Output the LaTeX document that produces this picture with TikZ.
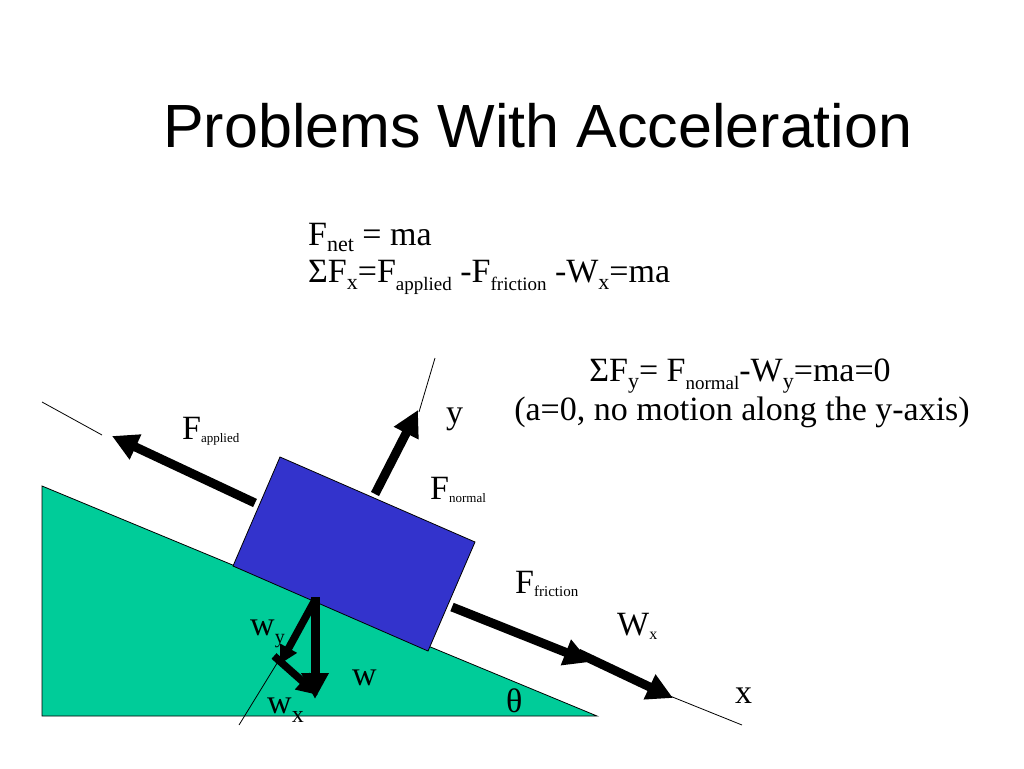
\documentclass[tikz,border=0pt]{standalone}
\usepackage{fontspec}
\setmainfont{Liberation Serif}
\newfontfamily\titlefont{Liberation Sans}
\usetikzlibrary{arrows.meta}
\definecolor{ramp}{RGB}{0,204,153}
\definecolor{block}{RGB}{51,51,204}
\def\fs#1{\fontsize{#1}{#1}\selectfont}
\def\lo#1#2#3{\raisebox{-#2pt}{\fs{#1}#3}}

\begin{document}
\begin{tikzpicture}[x=1pt,y=-1pt,
    force/.style={line width=9pt,-{Triangle[length=26pt,width=26pt]}},
    smallforce/.style={line width=7.5pt,-{Triangle[length=#1,width=#1]}},
    axis/.style={line width=0.8pt},
    txt/.style={inner sep=0,anchor=base west,font=\fs{34}}]
          \fill [white] (0,0) rectangle (1024,768);
          \useasboundingbox (0,0) rectangle (1024,768);
          \node [inner sep=0,anchor=base west,font=\titlefont\fs{61}] (title) at (163,147) {Problems With Acceleration};
          \node [txt] (fnet) at (308,245) {F\lo{22}{6}{net} = ma};
          \node [txt] (sumx) at (308,282) {ΣF\lo{22}{7}{x}=F\lo{19}{8}{applied} -F\lo{19}{8}{friction} -W\lo{22}{7}{x}=ma};
          \node [txt,anchor=base] (sumy) at (740,381) {ΣF\lo{22}{7}{y}= F\lo{19}{8}{normal}-W\lo{22}{7}{y}=ma=0};
          \node [txt,anchor=base] (nomove) at (742,420) {(a=0, no motion along the y-axis)};
          % incline and block
          \draw [fill=ramp,line width=0.8pt] (42,486) -- (42,716) -- (597,716) -- cycle;
          \draw [fill=block,line width=0.8pt] (233,566) -- (280,457) -- (475,542) -- (428,651) -- cycle;
          % axes
          \coordinate (xa) at (42,402); \coordinate (xb) at (102,435);
          \coordinate (xc) at (665,694); \coordinate (xd) at (742,725);
          \coordinate (ya) at (435,358); \coordinate (yb) at (419,412);
          \coordinate (yc) at (279,660); \coordinate (yd) at (239,725);
          \draw [axis] (xa) -- (xb);
          \draw [axis] (xc) -- (xd);
          \draw [axis] (ya) -- (yb);
          \draw [axis] (yc) -- (yd);
          % forces
          \coordinate (apptail) at (255,503); \coordinate (apptip) at (112,436);
          \coordinate (normtail) at (375,494); \coordinate (normtip) at (418,410);
          \coordinate (frtail) at (452,607); \coordinate (frtip) at (590,662);
          \coordinate (wxtail) at (578,653); \coordinate (wxtip) at (673,698);
          \coordinate (wtail) at (315,597); \coordinate (wtip) at (315,699);
          \coordinate (wytail) at (315,600); \coordinate (wytip) at (280,664);
          \coordinate (wxstail) at (274,656); \coordinate (wxstip) at (318,695);
          \draw [force] (apptail) -- (apptip);
          \draw [force] (normtail) -- (normtip);
          \draw [force] (frtail) -- (frtip);
          \draw [force] (wxtail) -- (wxtip);
          \draw [force] (wtail) -- (wtip);
          \draw [smallforce=18pt] (wytail) -- (wytip);
          \draw [smallforce=21pt] (wxstail) -- (wxstip);
          % labels
          \node [txt] (lapp) at (182,439) {F\lo{13}{3}{applied}};
          \node [txt] (ly) at (446,423) {y};
          \node [txt] (lnorm) at (430,499) {F\lo{13}{3}{normal}};
          \node [txt] (lfr) at (515,593) {F\lo{15}{3}{friction}};
          \node [txt] (lwx) at (617,635) {W\lo{16}{4}{x}};
          \node [txt] (lwy) at (250,635) {w\lo{20}{8}{y}};
          \node [txt] (lw) at (352,685) {w};
          \node [txt] (lwxs) at (267,713) {w\lo{24}{9}{x}};
          \node [txt] (ltheta) at (506,712) {θ};
          \node [txt] (lx) at (735,703) {x};
\end{tikzpicture}
\end{document}
